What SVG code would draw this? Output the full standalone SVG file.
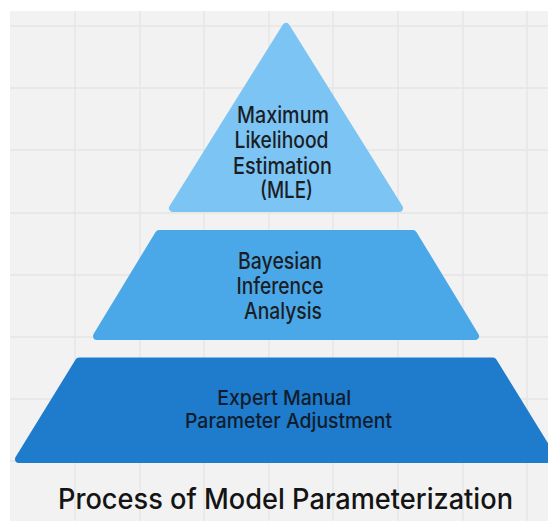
<svg xmlns="http://www.w3.org/2000/svg" width="548" height="521" viewBox="0 0 548 521">
  <style>
    .grid line { stroke: #e4e4e4; stroke-width: 1.3; }
    .tier { stroke-width: 8; stroke-linejoin: round; }
    .lbl { font-family: Inter, Roboto, "Liberation Sans", sans-serif; font-weight: 500; fill: #1a1e24; text-anchor: middle; }
    .top { fill: #7cc4f4; stroke: #7cc4f4; }
    .mid { fill: #4ba8e8; stroke: #4ba8e8; }
    .base { fill: #1f7bcc; stroke: #1f7bcc; }
    .dark { fill: #0f1d2c; }
    .title { font-family: Inter, Roboto, "Liberation Sans", sans-serif; font-size: 28px; font-weight: 500; fill: #141414; text-anchor: middle; }
  </style>

  <!-- page and grid panel -->
  <rect x="0" y="0" width="548" height="521" fill="#ffffff"/>
  <rect x="10" y="11" width="538" height="510" fill="#f2f2f2"/>
  <g class="grid">
    <line x1="75" y1="11" x2="75" y2="521"/>
    <line x1="140" y1="11" x2="140" y2="521"/>
    <line x1="204" y1="11" x2="204" y2="521"/>
    <line x1="269" y1="11" x2="269" y2="521"/>
    <line x1="333" y1="11" x2="333" y2="521"/>
    <line x1="398" y1="11" x2="398" y2="521"/>
    <line x1="463" y1="11" x2="463" y2="521"/>
    <line x1="527" y1="11" x2="527" y2="521"/>
    <line x1="10" y1="26" x2="548" y2="26"/>
    <line x1="10" y1="88" x2="548" y2="88"/>
    <line x1="10" y1="150" x2="548" y2="150"/>
    <line x1="10" y1="213" x2="548" y2="213"/>
    <line x1="10" y1="275" x2="548" y2="275"/>
    <line x1="10" y1="337" x2="548" y2="337"/>
    <line x1="10" y1="399" x2="548" y2="399"/>
    <line x1="10" y1="461" x2="548" y2="461"/>
  </g>

  <!-- connectors: the pyramid tiers are stacked, none drawn -->
  <g id="connectors"/>

  <!-- top tier -->
  <g id="mle">
    <polygon class="tier top" points="286,27 173,208 399,208"/>
    <text class="lbl" font-size="22.5">
      <tspan x="286" y="123" textLength="92" lengthAdjust="spacingAndGlyphs">Maximum</tspan>
      <tspan x="284.5" y="148" textLength="94" lengthAdjust="spacingAndGlyphs">Likelihood</tspan>
      <tspan x="285.5" y="173.5" textLength="99" lengthAdjust="spacingAndGlyphs">Estimation</tspan>
      <tspan x="286.5" y="198" textLength="53" lengthAdjust="spacingAndGlyphs">(MLE)</tspan>
    </text>
  </g>

  <!-- middle tier -->
  <g id="bayesian">
    <polygon class="tier mid" points="159,234 413,234 475,336 97,336"/>
    <text class="lbl" font-size="22.5">
      <tspan x="283" y="269" textLength="84" lengthAdjust="spacingAndGlyphs">Bayesian</tspan>
      <tspan x="283" y="294" textLength="87" lengthAdjust="spacingAndGlyphs">Inference</tspan>
      <tspan x="283" y="319" textLength="78" lengthAdjust="spacingAndGlyphs">Analysis</tspan>
    </text>
  </g>

  <!-- base tier -->
  <g id="expert">
    <polygon class="tier base" points="79,361.5 493,361.5 553,459 19,459"/>
    <text class="lbl dark" font-size="20.5">
      <tspan x="287" y="405" textLength="134" lengthAdjust="spacingAndGlyphs">Expert Manual</tspan>
      <tspan x="288.5" y="428" textLength="207" lengthAdjust="spacingAndGlyphs">Parameter Adjustment</tspan>
    </text>
  </g>

  <text class="title" x="285.5" y="509" textLength="455" lengthAdjust="spacingAndGlyphs">Process of Model Parameterization</text>
</svg>
